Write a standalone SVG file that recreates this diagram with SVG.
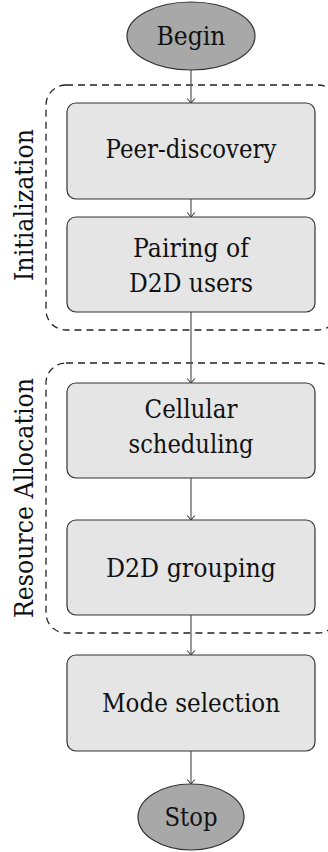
<svg xmlns="http://www.w3.org/2000/svg" width="328" height="852" viewBox="0 0 328 852">
  <style>
    .txt { font-family: "DejaVu Serif", serif; font-size: 26px; fill: #111; text-anchor: middle; }
    .box { fill: #e5e5e5; stroke: #333; stroke-width: 1.2; }
    .term { fill: #a8a8a8; stroke: #333; stroke-width: 1.2; }
    .group { fill: none; stroke: #222; stroke-width: 1.3; stroke-dasharray: 7 5; }
    .edge { fill: none; stroke: #555; stroke-width: 1.2; marker-end: url(#arrow); }
  </style>
  <defs>
    <marker id="arrow" markerWidth="10" markerHeight="10" refX="9" refY="5" orient="auto" markerUnits="userSpaceOnUse">
      <path d="M4.5,1.2 L9,5 L4.5,8.8" fill="none" stroke="#444" stroke-width="1.1"/>
    </marker>
  </defs>

  <rect width="328" height="852" fill="#fff"/>

  <!-- stage groupings -->
  <g id="stage-init">
    <rect class="group" x="46" y="85" width="292" height="245" rx="20"/>
    <text class="txt" transform="translate(33,205) rotate(-90)" textLength="152" lengthAdjust="spacingAndGlyphs">Initialization</text>
  </g>
  <g id="stage-resource">
    <rect class="group" x="46" y="363" width="292" height="270" rx="20"/>
    <text class="txt" transform="translate(33,498) rotate(-90)" textLength="240" lengthAdjust="spacingAndGlyphs">Resource Allocation</text>
  </g>

  <!-- connectors -->
  <g id="connectors">
    <line class="edge" x1="191" y1="70" x2="191" y2="103"/>
    <line class="edge" x1="191" y1="199" x2="191" y2="217"/>
    <line class="edge" x1="191" y1="312" x2="191" y2="383"/>
    <line class="edge" x1="191" y1="478" x2="191" y2="520"/>
    <line class="edge" x1="191" y1="615" x2="191" y2="655"/>
    <line class="edge" x1="191" y1="751" x2="191" y2="784"/>
  </g>

  <!-- nodes -->
  <g id="begin">
    <ellipse class="term" cx="191" cy="36" rx="64" ry="34"/>
    <text class="txt" x="191" y="45" textLength="69" lengthAdjust="spacingAndGlyphs">Begin</text>
  </g>
  <g id="peer-discovery">
    <rect class="box" x="67" y="103" width="248" height="96" rx="9"/>
    <text class="txt" x="191" y="158" textLength="171" lengthAdjust="spacingAndGlyphs">Peer-discovery</text>
  </g>
  <g id="pairing">
    <rect class="box" x="67" y="217" width="248" height="95" rx="9"/>
    <text class="txt" x="191" y="257" textLength="116" lengthAdjust="spacingAndGlyphs">Pairing of</text>
    <text class="txt" x="191" y="292" textLength="124" lengthAdjust="spacingAndGlyphs">D2D users</text>
  </g>
  <g id="cellular-scheduling">
    <rect class="box" x="67" y="383" width="248" height="95" rx="9"/>
    <text class="txt" x="191" y="418" textLength="93" lengthAdjust="spacingAndGlyphs">Cellular</text>
    <text class="txt" x="191" y="453" textLength="125" lengthAdjust="spacingAndGlyphs">scheduling</text>
  </g>
  <g id="d2d-grouping">
    <rect class="box" x="67" y="520" width="248" height="95" rx="9"/>
    <text class="txt" x="191" y="577" textLength="170" lengthAdjust="spacingAndGlyphs">D2D grouping</text>
  </g>
  <g id="mode-selection">
    <rect class="box" x="67" y="655" width="248" height="96" rx="9"/>
    <text class="txt" x="191" y="712" textLength="178" lengthAdjust="spacingAndGlyphs">Mode selection</text>
  </g>
  <g id="stop">
    <ellipse class="term" cx="191" cy="817" rx="53" ry="33"/>
    <text class="txt" x="191" y="826" textLength="53" lengthAdjust="spacingAndGlyphs">Stop</text>
  </g>
</svg>
